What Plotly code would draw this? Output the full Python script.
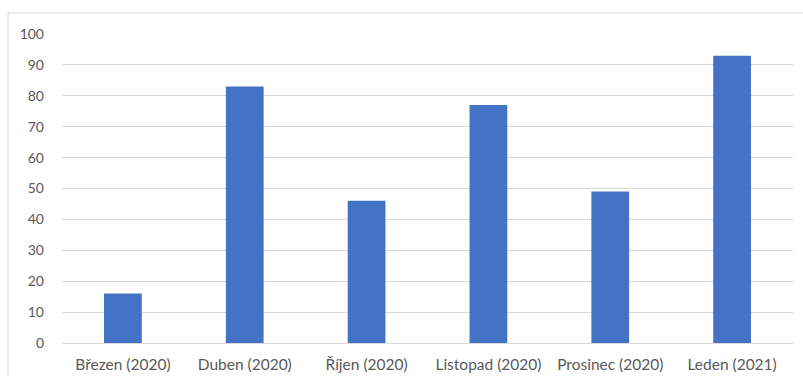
import plotly.graph_objects as go

categories = ["Březen (2020)", "Duben (2020)", "Říjen (2020)", "Listopad (2020)", "Prosinec (2020)", "Leden (2021)"]
values = [16, 83, 46, 77, 49, 93]
y_ticks = list(range(0, 101, 10))

W, H = 803, 376
L, R, T, B = 62, 10, 34, 33
pw, ph = W - L - R, H - T - B

fig = go.Figure(go.Bar(x=categories, y=values, marker=dict(color="#4472C4", line=dict(width=0))))

fig.update_layout(
    width=W, height=H, autosize=False,
    margin=dict(l=L, r=R, t=T, b=B),
    paper_bgcolor="white", plot_bgcolor="white",
    bargap=0.69,
    showlegend=False,
    font=dict(family="Lato, Open Sans, sans-serif", size=13, color="#595959"),
    xaxis=dict(showgrid=False, showline=False, ticks="", ticklabelstandoff=10, automargin=False,
               tickfont=dict(size=15.5, color="#595959")),
    yaxis=dict(range=[0, 100], tickvals=y_ticks, showgrid=True, gridcolor="#D9D9D9", gridwidth=1,
               zeroline=True, zerolinecolor="#D9D9D9", zerolinewidth=1,
               showline=False, ticks="", ticklabelstandoff=17, automargin=False,
               tickfont=dict(size=14, color="#595959")),
    shapes=[dict(type="rect", xref="paper", yref="paper",
                 x0=(8 - L) / pw, x1=(W + 5 - L) / pw,
                 y0=-(B + 5) / ph, y1=1 + (T - 13) / ph,
                 line=dict(color="#D9D9D9", width=1), fillcolor="rgba(0,0,0,0)", layer="below")],
)

fig.write_html("out.html")
